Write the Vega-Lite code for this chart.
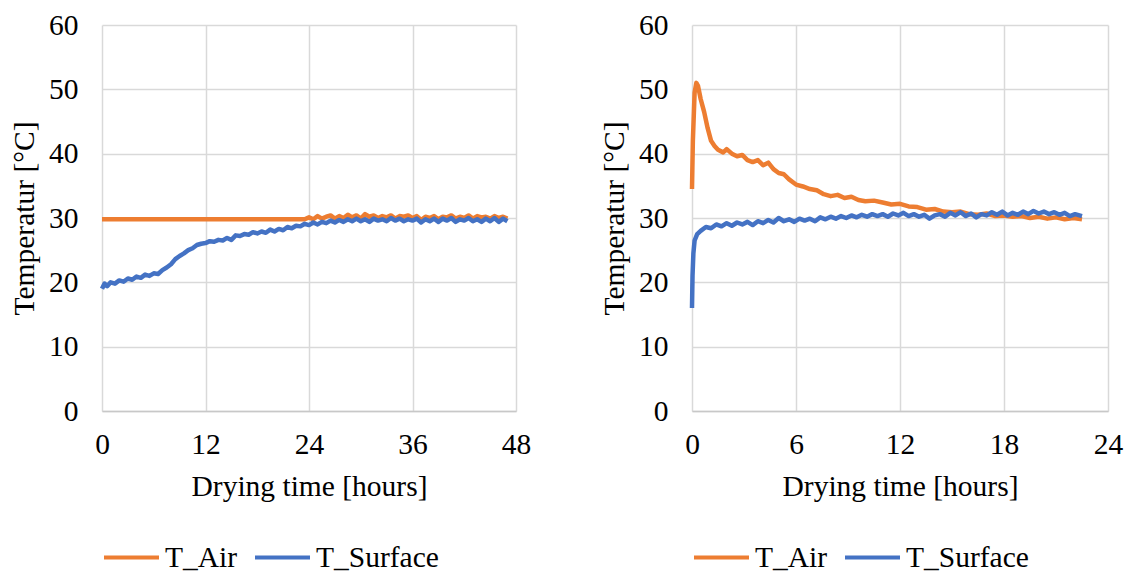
{
"$schema": "https://vega.github.io/schema/vega-lite/v6.json",
"padding": {"left": 9, "top": 10, "right": 4, "bottom": 5},
"spacing": 68,
"config": {
  "font": "Liberation Serif",
  "view": {"stroke": null},
  "axis": {"labelFont": "Liberation Serif", "titleFont": "Liberation Serif", "labelFontSize": 29.5, "titleFontSize": 29.5, "titleFontWeight": "normal", "labelColor": "#000000", "titleColor": "#000000", "ticks": false, "tickSize": 0, "gridColor": "#d9d9d9", "gridWidth": 1.5, "domainColor": "#c8c8c8", "domainWidth": 1.5, "labelFlush": false, "labelOverlap": false},
  "axisY": {"domain": false, "labelPadding": 24, "titlePadding": 9},
  "axisX": {"labelPadding": 19, "titlePadding": 14},
  "legend": {"labelFont": "Liberation Serif", "labelFontSize": 29.5, "labelColor": "#000000", "symbolType": "stroke", "symbolSize": 3025, "symbolStrokeWidth": 4, "labelOffset": 4, "columnPadding": 9, "direction": "horizontal", "orient": "none", "legendX": 0, "legendY": 503, "title": null}
},
"datasets": {
"left": [
{"t":0,"s":"T_Air","v":29.8},{"t":6,"s":"T_Air","v":29.8},{"t":12,"s":"T_Air","v":29.8},{"t":18,"s":"T_Air","v":29.8},{"t":23.5,"s":"T_Air","v":29.8},
{"t":24,"s":"T_Air","v":30.1},{"t":24.5,"s":"T_Air","v":29.8},{"t":25,"s":"T_Air","v":30.3},{"t":25.5,"s":"T_Air","v":29.9},{"t":26,"s":"T_Air","v":30.2},{"t":26.5,"s":"T_Air","v":30.4},{"t":27,"s":"T_Air","v":29.9},{"t":27.5,"s":"T_Air","v":30.3},{"t":28,"s":"T_Air","v":30.0},{"t":28.5,"s":"T_Air","v":30.5},{"t":29,"s":"T_Air","v":30.1},{"t":29.5,"s":"T_Air","v":30.4},{"t":30,"s":"T_Air","v":29.9},{"t":30.5,"s":"T_Air","v":30.6},{"t":31,"s":"T_Air","v":30.2},{"t":31.5,"s":"T_Air","v":30.4},{"t":32,"s":"T_Air","v":30.0},{"t":32.5,"s":"T_Air","v":30.3},{"t":33,"s":"T_Air","v":30.1},{"t":33.5,"s":"T_Air","v":30.4},{"t":34,"s":"T_Air","v":29.9},{"t":34.5,"s":"T_Air","v":30.3},{"t":35,"s":"T_Air","v":30.2},{"t":35.5,"s":"T_Air","v":30.4},{"t":36,"s":"T_Air","v":30.0},{"t":36.5,"s":"T_Air","v":30.3},{"t":37,"s":"T_Air","v":29.7},{"t":37.5,"s":"T_Air","v":30.2},{"t":38,"s":"T_Air","v":30.0},{"t":38.5,"s":"T_Air","v":30.3},{"t":39,"s":"T_Air","v":29.8},{"t":39.5,"s":"T_Air","v":30.2},{"t":40,"s":"T_Air","v":30.1},{"t":40.5,"s":"T_Air","v":30.4},{"t":41,"s":"T_Air","v":29.9},{"t":41.5,"s":"T_Air","v":30.2},{"t":42,"s":"T_Air","v":30.0},{"t":42.5,"s":"T_Air","v":30.4},{"t":43,"s":"T_Air","v":29.9},{"t":43.5,"s":"T_Air","v":30.3},{"t":44,"s":"T_Air","v":30.1},{"t":44.5,"s":"T_Air","v":30.2},{"t":45,"s":"T_Air","v":29.9},{"t":45.5,"s":"T_Air","v":30.3},{"t":46,"s":"T_Air","v":30.0},{"t":46.5,"s":"T_Air","v":30.2},{"t":47,"s":"T_Air","v":29.9},
{"t":0,"s":"T_Surface","v":19.0},{"t":0.3,"s":"T_Surface","v":19.8},{"t":0.6,"s":"T_Surface","v":19.4},{"t":1,"s":"T_Surface","v":20.0},{"t":1.5,"s":"T_Surface","v":19.8},{"t":2,"s":"T_Surface","v":20.3},{"t":2.5,"s":"T_Surface","v":20.1},{"t":3,"s":"T_Surface","v":20.6},{"t":3.5,"s":"T_Surface","v":20.4},{"t":4,"s":"T_Surface","v":20.9},{"t":4.5,"s":"T_Surface","v":20.7},{"t":5,"s":"T_Surface","v":21.2},{"t":5.5,"s":"T_Surface","v":21.0},{"t":6,"s":"T_Surface","v":21.4},{"t":6.5,"s":"T_Surface","v":21.3},{"t":7,"s":"T_Surface","v":21.9},{"t":7.5,"s":"T_Surface","v":22.3},{"t":8,"s":"T_Surface","v":22.8},{"t":8.5,"s":"T_Surface","v":23.6},{"t":9,"s":"T_Surface","v":24.1},{"t":9.5,"s":"T_Surface","v":24.5},{"t":10,"s":"T_Surface","v":25.0},{"t":10.5,"s":"T_Surface","v":25.3},{"t":11,"s":"T_Surface","v":25.8},{"t":11.5,"s":"T_Surface","v":26.0},{"t":12,"s":"T_Surface","v":26.1},{"t":12.5,"s":"T_Surface","v":26.4},{"t":13,"s":"T_Surface","v":26.3},{"t":13.5,"s":"T_Surface","v":26.6},{"t":14,"s":"T_Surface","v":26.5},{"t":14.5,"s":"T_Surface","v":26.9},{"t":15,"s":"T_Surface","v":26.6},{"t":15.5,"s":"T_Surface","v":27.3},{"t":16,"s":"T_Surface","v":27.2},{"t":16.5,"s":"T_Surface","v":27.5},{"t":17,"s":"T_Surface","v":27.4},{"t":17.5,"s":"T_Surface","v":27.8},{"t":18,"s":"T_Surface","v":27.6},{"t":18.5,"s":"T_Surface","v":27.9},{"t":19,"s":"T_Surface","v":27.7},{"t":19.5,"s":"T_Surface","v":28.2},{"t":20,"s":"T_Surface","v":27.9},{"t":20.5,"s":"T_Surface","v":28.3},{"t":21,"s":"T_Surface","v":28.1},{"t":21.5,"s":"T_Surface","v":28.6},{"t":22,"s":"T_Surface","v":28.4},{"t":22.5,"s":"T_Surface","v":28.8},{"t":23,"s":"T_Surface","v":28.7},{"t":23.5,"s":"T_Surface","v":29.1},{"t":24,"s":"T_Surface","v":28.9},{"t":24.5,"s":"T_Surface","v":29.3},{"t":25,"s":"T_Surface","v":29.0},{"t":25.5,"s":"T_Surface","v":29.4},{"t":26,"s":"T_Surface","v":29.2},{"t":26.5,"s":"T_Surface","v":29.6},{"t":27,"s":"T_Surface","v":29.3},{"t":27.5,"s":"T_Surface","v":29.7},{"t":28,"s":"T_Surface","v":29.4},{"t":28.5,"s":"T_Surface","v":29.8},{"t":29,"s":"T_Surface","v":29.5},{"t":29.5,"s":"T_Surface","v":29.9},{"t":30,"s":"T_Surface","v":29.5},{"t":30.5,"s":"T_Surface","v":29.8},{"t":31,"s":"T_Surface","v":29.4},{"t":31.5,"s":"T_Surface","v":29.9},{"t":32,"s":"T_Surface","v":29.6},{"t":32.5,"s":"T_Surface","v":29.8},{"t":33,"s":"T_Surface","v":29.5},{"t":33.5,"s":"T_Surface","v":30.0},{"t":34,"s":"T_Surface","v":29.6},{"t":34.5,"s":"T_Surface","v":29.9},{"t":35,"s":"T_Surface","v":29.5},{"t":35.5,"s":"T_Surface","v":29.8},{"t":36,"s":"T_Surface","v":29.6},{"t":36.5,"s":"T_Surface","v":29.9},{"t":37,"s":"T_Surface","v":29.3},{"t":37.5,"s":"T_Surface","v":29.8},{"t":38,"s":"T_Surface","v":29.5},{"t":38.5,"s":"T_Surface","v":29.9},{"t":39,"s":"T_Surface","v":29.4},{"t":39.5,"s":"T_Surface","v":29.9},{"t":40,"s":"T_Surface","v":29.6},{"t":40.5,"s":"T_Surface","v":30.0},{"t":41,"s":"T_Surface","v":29.4},{"t":41.5,"s":"T_Surface","v":29.8},{"t":42,"s":"T_Surface","v":29.6},{"t":42.5,"s":"T_Surface","v":30.0},{"t":43,"s":"T_Surface","v":29.5},{"t":43.5,"s":"T_Surface","v":29.8},{"t":44,"s":"T_Surface","v":29.4},{"t":44.5,"s":"T_Surface","v":29.9},{"t":45,"s":"T_Surface","v":29.5},{"t":45.5,"s":"T_Surface","v":30.0},{"t":46,"s":"T_Surface","v":29.4},{"t":46.5,"s":"T_Surface","v":29.9},{"t":47,"s":"T_Surface","v":29.5}
],
"right": [
{"t":0,"s":"T_Air","v":34.5},{"t":0.05,"s":"T_Air","v":42},{"t":0.15,"s":"T_Air","v":49.5},{"t":0.25,"s":"T_Air","v":51.0},{"t":0.35,"s":"T_Air","v":50.5},{"t":0.5,"s":"T_Air","v":48.5},{"t":0.7,"s":"T_Air","v":46.5},{"t":0.9,"s":"T_Air","v":44.0},{"t":1.1,"s":"T_Air","v":42.0},{"t":1.3,"s":"T_Air","v":41.2},{"t":1.5,"s":"T_Air","v":40.6},{"t":1.8,"s":"T_Air","v":40.2},{"t":2.0,"s":"T_Air","v":40.7},{"t":2.3,"s":"T_Air","v":40.0},{"t":2.6,"s":"T_Air","v":39.6},{"t":2.9,"s":"T_Air","v":39.8},{"t":3.2,"s":"T_Air","v":39.0},{"t":3.5,"s":"T_Air","v":38.7},{"t":3.8,"s":"T_Air","v":39.0},{"t":4.1,"s":"T_Air","v":38.2},{"t":4.4,"s":"T_Air","v":38.6},{"t":4.7,"s":"T_Air","v":37.6},{"t":5.0,"s":"T_Air","v":37.0},{"t":5.3,"s":"T_Air","v":36.8},{"t":5.6,"s":"T_Air","v":36.0},{"t":6.0,"s":"T_Air","v":35.2},{"t":6.4,"s":"T_Air","v":34.9},{"t":6.8,"s":"T_Air","v":34.5},{"t":7.2,"s":"T_Air","v":34.3},{"t":7.6,"s":"T_Air","v":33.7},{"t":8.0,"s":"T_Air","v":33.4},{"t":8.4,"s":"T_Air","v":33.6},{"t":8.8,"s":"T_Air","v":33.1},{"t":9.2,"s":"T_Air","v":33.3},{"t":9.6,"s":"T_Air","v":32.8},{"t":10,"s":"T_Air","v":32.6},{"t":10.5,"s":"T_Air","v":32.7},{"t":11,"s":"T_Air","v":32.4},{"t":11.5,"s":"T_Air","v":32.1},{"t":12,"s":"T_Air","v":32.2},{"t":12.5,"s":"T_Air","v":31.8},{"t":13,"s":"T_Air","v":31.7},{"t":13.5,"s":"T_Air","v":31.3},{"t":14,"s":"T_Air","v":31.4},{"t":14.5,"s":"T_Air","v":31.0},{"t":15,"s":"T_Air","v":30.9},{"t":15.5,"s":"T_Air","v":31.0},{"t":16,"s":"T_Air","v":30.6},{"t":16.5,"s":"T_Air","v":30.5},{"t":17,"s":"T_Air","v":30.7},{"t":17.5,"s":"T_Air","v":30.3},{"t":18,"s":"T_Air","v":30.4},{"t":18.5,"s":"T_Air","v":30.2},{"t":19,"s":"T_Air","v":30.3},{"t":19.5,"s":"T_Air","v":30.0},{"t":20,"s":"T_Air","v":30.2},{"t":20.5,"s":"T_Air","v":29.9},{"t":21,"s":"T_Air","v":30.1},{"t":21.5,"s":"T_Air","v":29.8},{"t":22,"s":"T_Air","v":30.0},{"t":22.5,"s":"T_Air","v":29.8},
{"t":0,"s":"T_Surface","v":16.0},{"t":0.03,"s":"T_Surface","v":21},{"t":0.08,"s":"T_Surface","v":24.5},{"t":0.15,"s":"T_Surface","v":26.5},{"t":0.3,"s":"T_Surface","v":27.5},{"t":0.5,"s":"T_Surface","v":28.0},{"t":0.8,"s":"T_Surface","v":28.6},{"t":1.1,"s":"T_Surface","v":28.4},{"t":1.4,"s":"T_Surface","v":29.0},{"t":1.7,"s":"T_Surface","v":28.7},{"t":2.0,"s":"T_Surface","v":29.2},{"t":2.3,"s":"T_Surface","v":28.8},{"t":2.6,"s":"T_Surface","v":29.3},{"t":2.9,"s":"T_Surface","v":29.0},{"t":3.2,"s":"T_Surface","v":29.4},{"t":3.5,"s":"T_Surface","v":28.9},{"t":3.8,"s":"T_Surface","v":29.5},{"t":4.1,"s":"T_Surface","v":29.2},{"t":4.4,"s":"T_Surface","v":29.7},{"t":4.7,"s":"T_Surface","v":29.3},{"t":5.0,"s":"T_Surface","v":30.0},{"t":5.3,"s":"T_Surface","v":29.5},{"t":5.6,"s":"T_Surface","v":29.8},{"t":5.9,"s":"T_Surface","v":29.4},{"t":6.2,"s":"T_Surface","v":29.9},{"t":6.5,"s":"T_Surface","v":29.6},{"t":6.8,"s":"T_Surface","v":29.9},{"t":7.1,"s":"T_Surface","v":29.5},{"t":7.4,"s":"T_Surface","v":30.1},{"t":7.7,"s":"T_Surface","v":29.8},{"t":8.0,"s":"T_Surface","v":30.2},{"t":8.3,"s":"T_Surface","v":29.9},{"t":8.6,"s":"T_Surface","v":30.3},{"t":8.9,"s":"T_Surface","v":30.0},{"t":9.2,"s":"T_Surface","v":30.4},{"t":9.5,"s":"T_Surface","v":30.1},{"t":9.8,"s":"T_Surface","v":30.5},{"t":10.1,"s":"T_Surface","v":30.2},{"t":10.4,"s":"T_Surface","v":30.6},{"t":10.7,"s":"T_Surface","v":30.3},{"t":11.0,"s":"T_Surface","v":30.6},{"t":11.3,"s":"T_Surface","v":30.2},{"t":11.6,"s":"T_Surface","v":30.7},{"t":11.9,"s":"T_Surface","v":30.4},{"t":12.2,"s":"T_Surface","v":30.8},{"t":12.5,"s":"T_Surface","v":30.3},{"t":12.8,"s":"T_Surface","v":30.6},{"t":13.1,"s":"T_Surface","v":30.2},{"t":13.4,"s":"T_Surface","v":30.5},{"t":13.7,"s":"T_Surface","v":29.9},{"t":14.0,"s":"T_Surface","v":30.4},{"t":14.3,"s":"T_Surface","v":30.6},{"t":14.6,"s":"T_Surface","v":30.2},{"t":14.9,"s":"T_Surface","v":30.8},{"t":15.2,"s":"T_Surface","v":30.4},{"t":15.5,"s":"T_Surface","v":30.9},{"t":15.8,"s":"T_Surface","v":30.3},{"t":16.1,"s":"T_Surface","v":30.7},{"t":16.4,"s":"T_Surface","v":30.1},{"t":16.7,"s":"T_Surface","v":30.6},{"t":17.0,"s":"T_Surface","v":30.4},{"t":17.3,"s":"T_Surface","v":30.9},{"t":17.6,"s":"T_Surface","v":30.5},{"t":17.9,"s":"T_Surface","v":31.0},{"t":18.2,"s":"T_Surface","v":30.4},{"t":18.5,"s":"T_Surface","v":30.8},{"t":18.8,"s":"T_Surface","v":30.5},{"t":19.1,"s":"T_Surface","v":31.0},{"t":19.4,"s":"T_Surface","v":30.6},{"t":19.7,"s":"T_Surface","v":31.1},{"t":20.0,"s":"T_Surface","v":30.7},{"t":20.3,"s":"T_Surface","v":31.0},{"t":20.6,"s":"T_Surface","v":30.6},{"t":20.9,"s":"T_Surface","v":30.9},{"t":21.2,"s":"T_Surface","v":30.5},{"t":21.5,"s":"T_Surface","v":30.8},{"t":21.8,"s":"T_Surface","v":30.3},{"t":22.1,"s":"T_Surface","v":30.6},{"t":22.5,"s":"T_Surface","v":30.3}
]
},
"resolve": {"scale": {"color": "independent"}, "legend": {"color": "independent"}},
"hconcat": [
{
  "width": 414, "height": 386,
  "data": {"name": "left"},
  "mark": {"type": "line", "strokeWidth": 4.5, "strokeJoin": "round"},
  "encoding": {
    "x": {"field": "t", "type": "quantitative", "title": "Drying time [hours]", "scale": {"domain": [0, 48], "nice": false}, "axis": {"values": [0, 12, 24, 36, 48]}},
    "y": {"field": "v", "type": "quantitative", "title": "Temperatur [°C]", "scale": {"domain": [0, 60], "nice": false}, "axis": {"values": [0, 10, 20, 30, 40, 50, 60]}},
    "color": {"field": "s", "type": "nominal", "scale": {"domain": ["T_Air", "T_Surface"], "range": ["#ED7D31", "#4472C4"]}, "legend": {"orient": "none", "legendX": 0, "legendY": 503, "direction": "horizontal", "title": null}}
  }
},
{
  "width": 416, "height": 386,
  "data": {"name": "right"},
  "mark": {"type": "line", "strokeWidth": 4.5, "strokeJoin": "round"},
  "encoding": {
    "x": {"field": "t", "type": "quantitative", "title": "Drying time [hours]", "scale": {"domain": [0, 24], "nice": false}, "axis": {"values": [0, 6, 12, 18, 24]}},
    "y": {"field": "v", "type": "quantitative", "title": "Temperatur [°C]", "scale": {"domain": [0, 60], "nice": false}, "axis": {"values": [0, 10, 20, 30, 40, 50, 60]}},
    "color": {"field": "s", "type": "nominal", "scale": {"domain": ["T_Air", "T_Surface"], "range": ["#ED7D31", "#4472C4"]}, "legend": {"orient": "none", "legendX": 0, "legendY": 503, "direction": "horizontal", "title": null}}
  }
}
]
}
